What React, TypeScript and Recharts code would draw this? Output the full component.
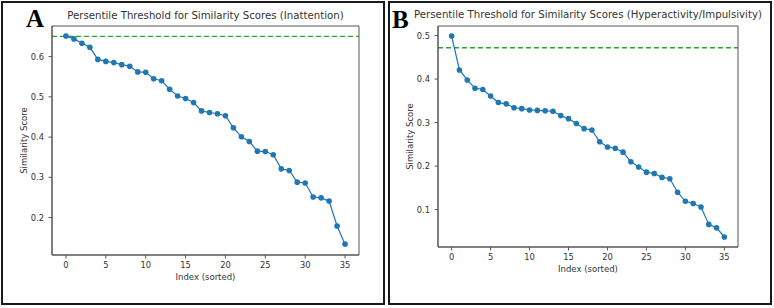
import React from "react";
import { LineChart, Line, XAxis, YAxis, ReferenceLine, ReferenceArea } from "recharts";

// sorted similarity scores, one per item
const scoresInattention = [
  0.651, 0.644, 0.633, 0.623, 0.593, 0.588, 0.585, 0.58, 0.576, 0.562, 0.561, 0.545,
  0.54, 0.519, 0.502, 0.496, 0.486, 0.465, 0.461, 0.458, 0.453, 0.423, 0.401, 0.389,
  0.365, 0.364, 0.356, 0.321, 0.317, 0.288, 0.286, 0.251, 0.249, 0.241, 0.179, 0.134,
];
const scoresHyperactivity = [
  0.499, 0.421, 0.398, 0.379, 0.376, 0.361, 0.346, 0.343, 0.334, 0.332, 0.329, 0.328,
  0.327, 0.326, 0.316, 0.309, 0.298, 0.286, 0.283, 0.256, 0.244, 0.241, 0.232, 0.21,
  0.198, 0.186, 0.183, 0.174, 0.171, 0.14, 0.119, 0.114, 0.106, 0.066, 0.058, 0.037,
];
const thresholdInattention = 0.65;
const thresholdHyperactivity = 0.472;

const indexTicks = [0, 5, 10, 15, 20, 25, 30, 35];
const ticksInattention = [0.2, 0.3, 0.4, 0.5, 0.6];
const ticksHyperactivity = [0.1, 0.2, 0.3, 0.4, 0.5];

const FONT = "'DejaVu Sans', sans-serif";
const BLUE = "#1f77b4";
const GREEN = "#2ca02c";
const SPINE = "#555";
const TEXT = "#333";

function XLabel({ viewBox }: any) {
  const { x, y, width } = viewBox;
  return (
    <text x={x + width / 2} y={y + 25.3} textAnchor="middle" fontSize={8.5} fontFamily={FONT} fill={TEXT}>
      Index (sorted)
    </text>
  );
}

function YLabel({ viewBox }: any) {
  const { x, y, width, height } = viewBox;
  const cx = x + width - 25;
  const cy = y + height / 2;
  return (
    <text
      x={cx}
      y={cy}
      transform={`rotate(-90 ${cx} ${cy})`}
      textAnchor="middle"
      fontSize={8.5}
      fontFamily={FONT}
      fill={TEXT}
    >
      Similarity Score
    </text>
  );
}

interface PanelProps {
  scores: number[];
  threshold: number;
  yDomain: [number, number];
  yTicks: number[];
  width: number;
  margin: { top: number; right: number; bottom: number; left: number };
}

function ScorePanel({ scores, threshold, yDomain, yTicks, width, margin }: PanelProps) {
  const data = scores.map((score, idx) => ({ idx, score }));
  const xDomain: [number, number] = [-1.75, 36.75];
  const tick = { fontSize: 8.3, fill: TEXT, fontFamily: FONT };
  return (
    <LineChart width={width} height={308} data={data} margin={margin}>
      <XAxis
        dataKey="idx"
        type="number"
        domain={xDomain}
        ticks={indexTicks}
        allowDataOverflow
        height={30}
        tickSize={3.5}
        tickMargin={4}
        tick={tick}
        axisLine={{ stroke: SPINE }}
        tickLine={{ stroke: SPINE }}
        label={<XLabel />}
      />
      <YAxis
        type="number"
        domain={yDomain}
        ticks={yTicks}
        allowDataOverflow
        width={40}
        tickSize={3.5}
        tickMargin={4.5}
        tick={tick}
        tickFormatter={(v: number) => v.toFixed(1)}
        axisLine={{ stroke: SPINE }}
        tickLine={{ stroke: SPINE }}
        label={<YLabel />}
      />
      <ReferenceArea
        x1={xDomain[0]}
        x2={xDomain[1]}
        y1={yDomain[0]}
        y2={yDomain[1]}
        fill="none"
        stroke={SPINE}
        strokeWidth={1}
      />
      <ReferenceLine y={threshold} stroke={GREEN} strokeWidth={1.3} strokeDasharray="5 3" />
      <Line
        dataKey="score"
        stroke={BLUE}
        strokeWidth={1.2}
        dot={{ r: 2.8, fill: BLUE, stroke: BLUE, strokeWidth: 0 }}
        isAnimationActive={false}
      />
    </LineChart>
  );
}

const box: React.CSSProperties = {
  position: "absolute",
  boxSizing: "border-box",
  border: "2px solid #1a1a1a",
  top: 1,
  height: 304,
  width: 384,
};

// titles are centred on the plot area and allowed to run wider than it
const title: React.CSSProperties = {
  position: "absolute",
  transform: "translateX(-50%)",
  fontFamily: FONT,
  fontSize: 10.2,
  lineHeight: "12px",
  color: TEXT,
  whiteSpace: "nowrap",
};

const letter: React.CSSProperties = {
  position: "absolute",
  fontFamily: "'Liberation Serif', 'Times New Roman', serif",
  fontWeight: "bold",
  fontSize: 25,
  lineHeight: 1,
  color: "#000",
};

export default function App() {
  return (
    <div style={{ position: "absolute", left: 0, top: 0, width: 774, height: 308, background: "#fff", overflow: "hidden" }}>
      <div style={{ ...box, left: 1 }} />
      <div style={{ ...box, left: 388 }} />

      <div style={{ position: "absolute", left: 0, top: 0 }}>
        <ScorePanel
          scores={scoresInattention}
          threshold={thresholdInattention}
          yDomain={[0.107, 0.676]}
          yTicks={ticksInattention}
          width={386}
          margin={{ top: 26, right: 27, bottom: 23, left: 12 }}
        />
      </div>
      <div style={{ position: "absolute", left: 388, top: 0 }}>
        <ScorePanel
          scores={scoresHyperactivity}
          threshold={thresholdHyperactivity}
          yDomain={[0.014, 0.522]}
          yTicks={ticksHyperactivity}
          width={386}
          margin={{ top: 26, right: 36, bottom: 31, left: 10 }}
        />
      </div>

      <div style={{ ...title, left: 205.5, top: 10 }}>
        Persentile Threshold for Similarity Scores (Inattention)
      </div>
      <div style={{ ...title, left: 588, top: 9 }}>
        Persentile Threshold for Similarity Scores (Hyperactivity/Impulsivity)
      </div>

      <div style={{ ...letter, left: 26, top: 6 }}>A</div>
      <div style={{ ...letter, left: 392, top: 7 }}>B</div>
    </div>
  );
}
